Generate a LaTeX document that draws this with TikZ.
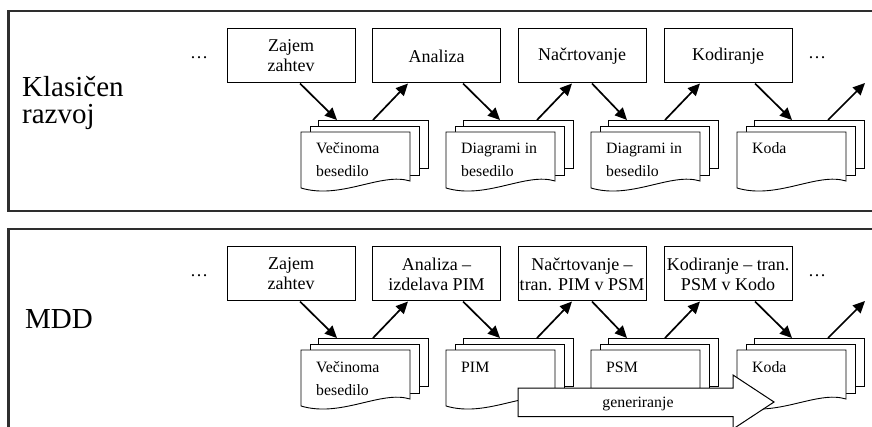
\documentclass[tikz,border=0pt]{standalone}
\usepackage{fontspec}
\setmainfont{Liberation Serif}
\usetikzlibrary{arrows.meta}
\tikzset{
  frame/.style={line width=2.3pt, draw=black!82},
  proc/.style={draw, line width=1pt, fill=white, minimum width=128pt, minimum height=54pt,
    inner sep=1pt, align=center, font=\fontsize{18}{20}\selectfont},
  backpage/.style={draw, line width=0.9pt, fill=white, minimum width=110pt, minimum height=48pt,
    anchor=north west, inner sep=0pt, outer sep=0pt},
  docpage/.style={draw, line width=0.9pt, fill=white},
  doctext/.style={anchor=base west, inner sep=0pt, font=\fontsize{15.8}{22}\selectfont},
  flow/.style={line width=1.7pt, -{Triangle[length=12pt,width=11pt]}},
  biglabel/.style={anchor=base west, inner sep=0pt, font=\fontsize{29}{29}\selectfont},
  dotsnode/.style={anchor=base, inner sep=0pt, font=\fontsize{18}{20}\selectfont},
  genarrow/.style={draw, line width=1pt, fill=white},
}
\newcommand\docstack[3]{%
  \node[backpage] (#3) at (#1+17,#2+120) {};
  \path[docpage] (#1+9,#2+126) rectangle (#1+118,#2+175);
  \path[docpage] (#1,#2+188) -- (#1,#2+132) -- (#1+109,#2+132) -- (#1+109,#2+181)
     .. controls (#1+80,#2+172) and (#1+40,#2+200) .. (#1,#2+188) -- cycle;
}
\begin{document}
\begin{tikzpicture}[x=1pt,y=-1pt]
\useasboundingbox (0,0) rectangle (872,427);
\begin{scope}
\clip (0,0) rectangle (872,427);
% frames
\draw[frame] (8.5,11) rectangle (900,211);
\draw[frame] (8.5,229) rectangle (900,470);

% ---------- top panel ----------
\node[biglabel] (lk1) at (22,97) {Klasičen};
\node[biglabel] (lk2) at (22,124) {razvoj};
\node[dotsnode] (p1) at (199,59) {…};
\node[dotsnode] (p2) at (817,59) {…};

\node[proc] (b1) at (291,56) {Zajem\\zahtev};
\node[proc] (b2) at (436.5,56) {Analiza};
\node[proc] (b3) at (582,56) {Načrtovanje};
\node[proc] (b4) at (728,56) {Kodiranje};
\coordinate (e1) at (865,83);

\docstack{301}{0}{c1}
\docstack{446}{0}{c2}
\docstack{591}{0}{c3}
\docstack{737}{0}{c4}

\node[doctext] (t1a) at (316,154) {Večinoma};
\node[doctext] (t1b) at (316,177) {besedilo};
\node[doctext] (t2a) at (461,154) {Diagrami in};
\node[doctext] (t2b) at (461,177) {besedilo};
\node[doctext] (t3a) at (606,154) {Diagrami in};
\node[doctext] (t3b) at (606,177) {besedilo};
\node[doctext] (t4a) at (752,154) {Koda};

\draw[flow] ([xshift=9]b1.south) -- ([xshift=19]c1.north west);
\draw[flow] ([xshift=55]c1.north west) -- ([xshift=-28.5]b2.south);
\draw[flow] ([xshift=26.5]b2.south) -- ([xshift=37]c2.north west);
\draw[flow] ([xshift=74]c2.north west) -- ([xshift=-10]b3.south);
\draw[flow] ([xshift=10]b3.south) -- ([xshift=19]c3.north west);
\draw[flow] ([xshift=57]c3.north west) -- ([xshift=-28]b4.south);
\draw[flow] ([xshift=27]b4.south) -- ([xshift=38]c4.north west);
\draw[flow] ([xshift=74]c4.north west) -- (e1);

% ---------- bottom panel ----------
\node[biglabel] (lm) at (25,328) {MDD};
\node[dotsnode] (q1) at (199,277) {…};
\node[dotsnode] (q2) at (817,277) {…};

\node[proc] (m1) at (291,274) {Zajem\\zahtev};
\node[proc] (m2) at (436.5,274) {Analiza –\\izdelava PIM};
\node[proc] (m3) at (582,274) {Načrtovanje –\\tran. PIM v PSM};
\node[proc] (m4) at (728,274) {Kodiranje – tran.\\PSM v Kodo};
\coordinate (e2) at (865,301);

\docstack{301}{218}{n1}
\docstack{446}{218}{n2}
\docstack{591}{218}{n3}
\docstack{737}{218}{n4}

\node[doctext] (s1a) at (316,372) {Večinoma};
\node[doctext] (s1b) at (316,395) {besedilo};
\node[doctext] (s2a) at (461,372) {PIM};
\node[doctext] (s3a) at (606,372) {PSM};
\node[doctext] (s4a) at (752,372) {Koda};

\draw[flow] ([xshift=9]m1.south) -- ([xshift=19]n1.north west);
\draw[flow] ([xshift=55]n1.north west) -- ([xshift=-28.5]m2.south);
\draw[flow] ([xshift=26.5]m2.south) -- ([xshift=37]n2.north west);
\draw[flow] ([xshift=74]n2.north west) -- ([xshift=-10]m3.south);
\draw[flow] ([xshift=10]m3.south) -- ([xshift=19]n3.north west);
\draw[flow] ([xshift=57]n3.north west) -- ([xshift=-28]m4.south);
\draw[flow] ([xshift=27]m4.south) -- ([xshift=38]n4.north west);
\draw[flow] ([xshift=74]n4.north west) -- (e2);

% generiranje arrow
\path[genarrow] (518,388) -- (733,388) -- (733,375) -- (774,402) -- (733,429)
   -- (733,416.5) -- (518,416.5) -- cycle;
\node[doctext, anchor=base] (gen) at (638,407) {generiranje};
\end{scope}
\end{tikzpicture}
\end{document}
